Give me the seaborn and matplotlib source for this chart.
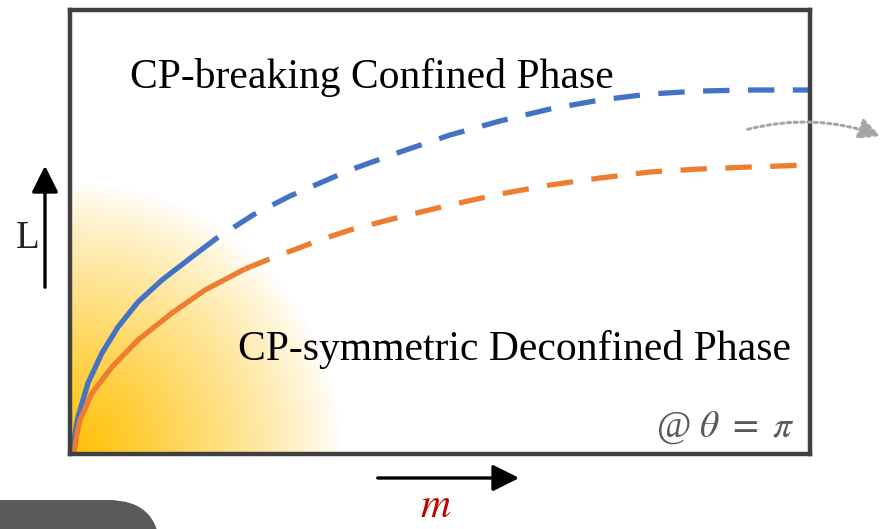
"""Phase diagram sketch: CP-breaking vs CP-symmetric phases at theta = pi."""
import numpy as np
import pandas as pd
import seaborn as sns
import matplotlib.pyplot as plt
from matplotlib.patches import FancyArrowPatch, FancyBboxPatch
from matplotlib.transforms import IdentityTransform

# phase boundaries (m along x, L along y)
blue_solid_m = [2, 3, 5, 8, 18, 32, 48, 68, 92, 127]
blue_solid_L = [0, 7, 20, 37, 71, 101, 127, 152, 174, 201]
blue_dash_m = [127, 147, 183, 220, 280, 330, 380, 430, 480, 530, 580, 630, 680, 740]
blue_dash_L = [201, 216, 239, 258, 284, 302, 319, 333, 345, 354, 360, 363, 364, 364]

orange_solid_m = [3, 5, 7, 10, 22, 42, 68, 102, 135, 175]
orange_solid_L = [0, 6, 20, 34, 61, 87, 114, 141, 164, 185]
orange_dash_m = [175, 197, 250, 280, 330, 380, 430, 480, 530, 580, 630, 680, 740]
orange_dash_L = [185, 194, 214, 224, 237, 249, 260, 269, 276, 282, 285, 287, 289]

BLUE = "#4472C4"
ORANGE = "#ED7D31"

sns.set_theme(style="white")
plt.rcParams["font.family"] = ["Liberation Serif", "DejaVu Serif"]
plt.rcParams["mathtext.fontset"] = "stix"

fig = plt.figure(figsize=(8.84, 5.29), dpi=100)
ax = fig.add_axes([70 / 884, 75 / 529, 740 / 884, 444 / 529])

# yellow glow in the corner
gx, gy = np.meshgrid(np.linspace(0, 740, 740), np.linspace(0, 444, 444))
r = np.hypot(gx, gy) / 272.0
glow = np.zeros(gx.shape + (4,))
glow[..., 0] = 1.0
glow[..., 1] = 0.75
glow[..., 2] = 0.0
glow[..., 3] = np.clip(1 - r, 0, 1) ** 0.85
ax.imshow(glow, extent=[0, 740, 0, 444], origin="lower", aspect="auto", zorder=0)

lw = 3.8
for m, L, col, ls in [
    (blue_solid_m, blue_solid_L, BLUE, "-"),
    (blue_dash_m, blue_dash_L, BLUE, (0, (5, 3.5))),
    (orange_solid_m, orange_solid_L, ORANGE, "-"),
    (orange_dash_m, orange_dash_L, ORANGE, (0, (5, 3.5))),
]:
    df = pd.DataFrame({"m": m, "L": L})
    sns.lineplot(data=df, x="m", y="L", sort=False, color=col, linewidth=lw,
                 linestyle=ls, ax=ax, zorder=3, solid_capstyle="butt",
                 solid_joinstyle="round", dash_capstyle="butt")

ax.set_xlim(0, 740)
ax.set_ylim(0, 444)
ax.set_xticks([])
ax.set_yticks([])
ax.set_xlabel("")
ax.set_ylabel("")
for s in ax.spines.values():
    s.set_color("#404040")
    s.set_linewidth(3.2)
    s.set_zorder(5)

ax.text(60, 366, "CP-breaking Confined Phase", fontsize=30, ha="left",
        va="baseline", color="black", zorder=4)
ax.text(168, 94, "CP-symmetric Deconfined Phase", fontsize=30, ha="left",
        va="baseline", color="black", zorder=4)
ax.text(725, 17, r"@ $\theta\ =\ \pi$", fontsize=27, ha="right",
        va="baseline", color="#595959", zorder=4)

# axis arrows and labels (figure pixels)
arrow_kw = dict(arrowstyle="-|>,head_length=0.9,head_width=0.45", color="black",
                linewidth=2.4, mutation_scale=18, transform=IdentityTransform())
fig.patches.append(FancyArrowPatch((45, 239), (45, 366), **arrow_kw))
fig.patches.append(FancyArrowPatch((375, 51), (522, 51), **arrow_kw))
fig.text(28 / 884, 290 / 529, "L", fontsize=28, ha="center", va="center")
fig.text(436 / 884, 22 / 529, r"$m$", fontsize=30, ha="center", va="center",
         color="#C00000")

# dotted arc leaving the frame
fig.patches.append(FancyArrowPatch(
    (745, 399), (883, 392), connectionstyle="arc3,rad=-0.16",
    arrowstyle="-|>,head_length=0.8,head_width=0.4", mutation_scale=16,
    color="#A6A6A6", linewidth=2.2, linestyle=(0, (1, 1.2)),
    transform=IdentityTransform()))

# grey tab at the bottom left
fig.patches.append(FancyBboxPatch(
    (-80, -80), 240, 109, boxstyle="round,pad=0,rounding_size=52",
    facecolor="#595959", edgecolor="none", transform=IdentityTransform()))

fig.savefig("out.png", dpi=100)
